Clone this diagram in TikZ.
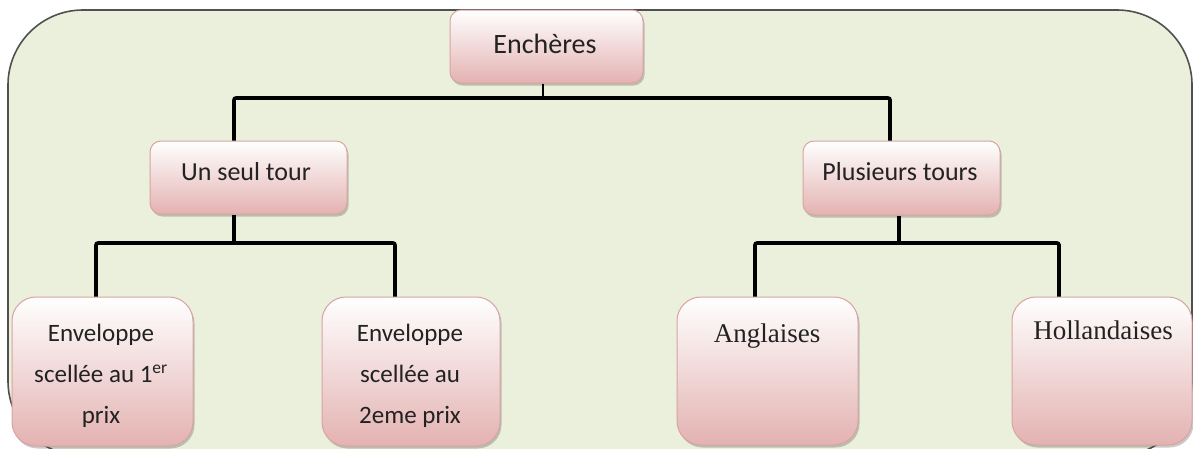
\documentclass[tikz,border=0pt]{standalone}
\usepackage{fontspec}
\setmainfont{Carlito}
\newfontfamily\serifface{Liberation Serif}
\usetikzlibrary{shadows}
\definecolor{panelfill}{HTML}{EAF0DC}
\definecolor{panelline}{HTML}{505050}
\definecolor{boxline}{HTML}{D9A3A2}
\definecolor{boxpink}{HTML}{E3B2B1}
\definecolor{txt}{HTML}{222222}
\begin{document}
\begin{tikzpicture}[x=1pt,y=-1pt,
  panel/.style={draw=panelline, line width=1.6pt, fill=panelfill, rounded corners=75pt, inner sep=0pt},
  card/.style={draw=boxline, line width=1pt, top color=white, bottom color=boxpink,
    drop shadow={shadow xshift=1.5pt, shadow yshift=-2.5pt, opacity=0.3, fill=black!70},
    inner sep=0pt},
  upper/.style={card, rounded corners=11pt},
  lower/.style={card, rounded corners=24pt},
  label/.style={text=txt, font=\fontsize{26}{30}\selectfont, inner sep=0pt},
  multilabel/.style={label, align=center, font=\fontsize{25}{41}\selectfont},
  seriflabel/.style={text=txt, font=\serifface\fontsize{27}{31}\selectfont, inner sep=0pt},
  bus/.style={draw=black, line width=3.6pt, rounded corners=2pt},
  stem/.style={draw=black, line width=3.2pt},
  thinstem/.style={draw=black, line width=2.4pt}]
\useasboundingbox (0,0) rectangle (1193,448);
\clip (0,0) rectangle (1193,448);

% outer frame
\node[panel, minimum width=1184pt, minimum height=446pt] (frame) at (600,233) {};

% boxes
\node[upper, minimum width=193pt, minimum height=73pt] (ench) at (546.5,46.5) {};
\node[upper, minimum width=197pt, minimum height=73pt] (un) at (248.5,177.5) {};
\node[upper, minimum width=197pt, minimum height=74pt] (plus) at (901.5,178) {};
\node[lower, minimum width=181pt, minimum height=149pt] (env1) at (102.5,371.5) {};
\node[lower, minimum width=178pt, minimum height=149pt] (env2) at (411,371.5) {};
\node[lower, minimum width=181pt, minimum height=148pt] (ang) at (767.5,371) {};
\node[lower, minimum width=180pt, minimum height=148pt] (hol) at (1102,371) {};

% junction points of the tree connectors
\coordinate (r0) at (543,98);
\coordinate (r0L) at (234,98);
\coordinate (r0R) at (890,98);
\coordinate (l1) at (234,243);
\coordinate (l1L) at (96,243);
\coordinate (l1R) at (395,243);
\coordinate (p1) at (899,243);
\coordinate (p1L) at (755,243);
\coordinate (p1R) at (1059,243);

% connectors
\draw[thinstem] (r0 |- ench.south) -- (r0);
\draw[bus] (r0L |- un.north) -- (r0L) -- (r0R) -- (r0R |- plus.north);
\draw[stem] (l1 |- un.south) -- (l1);
\draw[bus] (l1L |- env1.north) -- (l1L) -- (l1R) -- (l1R |- env2.north);
\draw[stem] (p1 |- plus.south) -- (p1);
\draw[bus] (p1L |- ang.north) -- (p1L) -- (p1R) -- (p1R |- hol.north);

% texts
\node[label, font=\fontsize{28}{32}\selectfont] (enchT) at (545,44) {Enchères};
\node[label] (unT) at (246,172) {Un seul tour};
\node[label] (plusT) at (900,172) {Plusieurs tours};
\node[multilabel] (env1T) at (101,376) {Enveloppe\\scellée au 1\textsuperscript{er}\\prix};
\node[multilabel] (env2T) at (410,376) {Enveloppe\\scellée au\\2eme prix};
\node[seriflabel] (angT) at (767,336) {Anglaises};
\node[seriflabel] (holT) at (1103,330) {Hollandaises};
\end{tikzpicture}
\end{document}
